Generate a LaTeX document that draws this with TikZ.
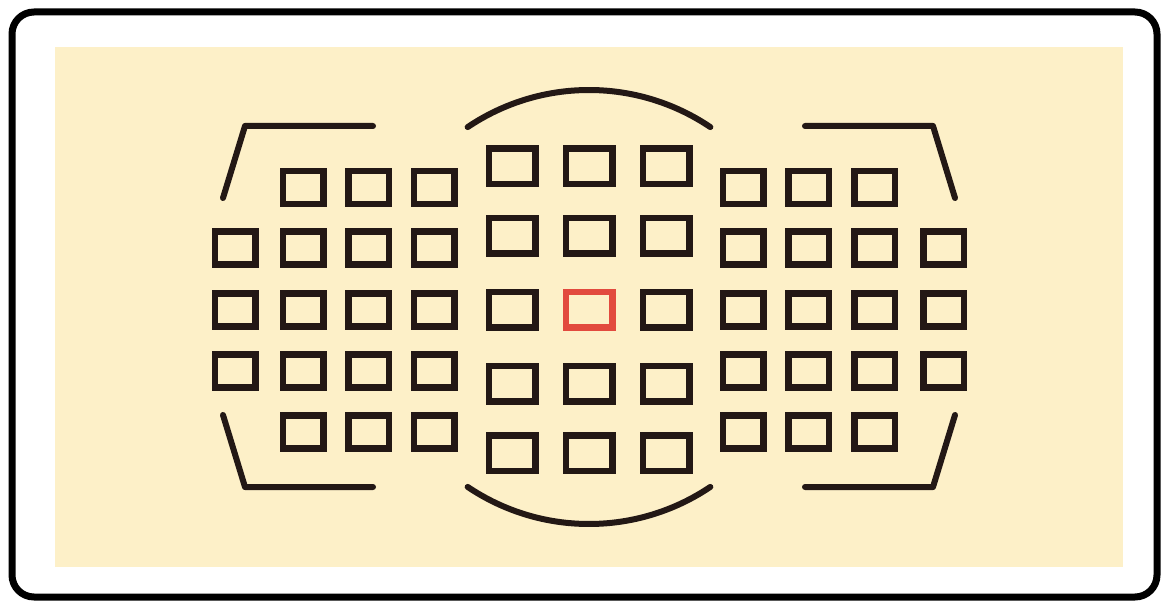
\documentclass[tikz,border=0pt]{standalone}
\usetikzlibrary{positioning}
\definecolor{beige}{RGB}{253,240,200}
\definecolor{ink}{RGB}{35,24,21}
\definecolor{afred}{RGB}{226,74,62}
\begin{document}
\begin{tikzpicture}[x=1pt,y=-1pt,
  sidept/.style={draw=ink,line width=6.5pt,minimum width=40.5pt,minimum height=33pt,inner sep=0pt,outer sep=0pt},
  midpt/.style={draw=ink,line width=6.5pt,minimum width=46.5pt,minimum height=35.5pt,inner sep=0pt,outer sep=0pt},
  actpt/.style={midpt,draw=afred},
  bracket/.style={draw=ink,line width=6pt,line cap=round,line join=round},
  frame/.style={draw=black,line width=7pt,rounded corners=22pt}]
\useasboundingbox (0,0) rectangle (1162,601);
\fill[white] (0,0) rectangle (1162,601);
\draw[frame] (12,12) rectangle (1157,597);
\fill[beige] (55,47) rectangle (1123,567);
% left group
\foreach \x/\c in {303/b,368.5/c,434/d}{
  \node[sidept] (L1\c) at (\x,187.5) {};
  \node[sidept] (L5\c) at (\x,432) {};}
\foreach \x/\c in {235/a,303/b,368.5/c,434/d}{
  \node[sidept] (L2\c) at (\x,248) {};
  \node[sidept] (L3\c) at (\x,310) {};
  \node[sidept] (L4\c) at (\x,371) {};}
% right group
\foreach \x/\c in {743/a,808.5/b,874.5/c}{
  \node[sidept] (R1\c) at (\x,187.5) {};
  \node[sidept] (R5\c) at (\x,432) {};}
\foreach \x/\c in {743/a,808.5/b,874.5/c,943.5/d}{
  \node[sidept] (R2\c) at (\x,248) {};
  \node[sidept] (R3\c) at (\x,310) {};
  \node[sidept] (R4\c) at (\x,371) {};}
% center group
\foreach \y/\r in {166.5/1,236/2,384/4,453/5}{
  \node[midpt] (C\r a) at (512,\y) {};
  \node[midpt] (C\r b) at (589,\y) {};
  \node[midpt] (C\r c) at (666,\y) {};}
\node[midpt] (C3a) at (512,310) {};
\node[actpt] (C3b) at (589,310) {};
\node[midpt] (C3c) at (666,310) {};
% brackets
\draw[bracket] (373,126) -- (245,126) -- (223,198);
\draw[bracket] (373,487) -- (245,487) -- (223,415);
\draw[bracket] (805,126) -- (933,126) -- (955,198);
\draw[bracket] (805,487) -- (933,487) -- (955,415);
% arcs
\coordinate (ctr) at (589,307);
\draw[bracket] (ctr) ++(124:217) arc[start angle=124,end angle=56,radius=217];
\draw[bracket] (ctr) ++(236:217) arc[start angle=236,end angle=304,radius=217];
\end{tikzpicture}
\end{document}
